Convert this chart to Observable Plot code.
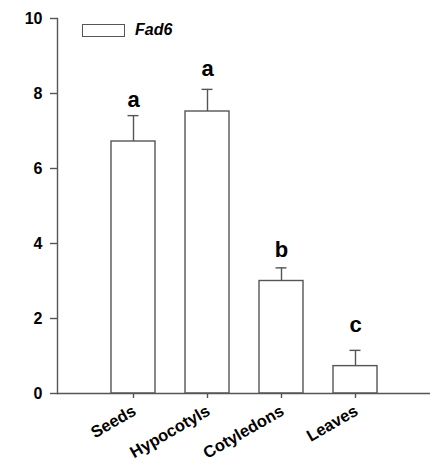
<!DOCTYPE html>
<html>
<head>
<meta charset="utf-8">
<script src="https://cdn.jsdelivr.net/npm/d3@7"></script>
<script src="https://cdn.jsdelivr.net/npm/@observablehq/plot@0.6"></script>
<style>
  body { margin: 0; background: #fff; font-family: "Liberation Sans", Arial, sans-serif; }
  #wrap { position: relative; width: 433px; height: 465px; }
  #legend { position: absolute; left: 82px; top: 22px; display: flex; align-items: center; }
  #legend .box { width: 41px; height: 11px; border: 1.3px solid #555; background: #fff; }
  #legend .lab { margin-left: 10px; font-style: italic; font-weight: bold; font-size: 16px; color: #000; line-height: 16px; }
</style>
</head>
<body>
<div id="wrap">
  <div id="chart"></div>
  <div id="legend"><div class="box"></div><div class="lab">Fad6</div></div>
</div>
<script>
const tissues = ["Seeds", "Hypocotyls", "Cotyledons", "Leaves"];
const values = [6.72, 7.52, 3.0, 0.73];
const errors = [0.69, 0.59, 0.35, 0.42];
const letters = ["a", "a", "b", "c"];
const letterY = [7.63, 8.48, 3.63, 1.63];
const yTicks = [0, 2, 4, 6, 8, 10];

const data = tissues.map((t, i) => ({
  tissue: t, value: values[i], top: values[i] + errors[i], letter: letters[i], ly: letterY[i]
}));

const pi = 0.41;
const ink = "#555";
const font = "Liberation Sans, Arial, sans-serif";

const chart = Plot.plot({
  width: 433,
  height: 465,
  marginLeft: 57,
  marginRight: 3,
  marginTop: 18,
  marginBottom: 72,
  style: { fontFamily: font, background: "#fff", color: "#000" },
  x: { type: "band", domain: tissues, paddingInner: pi, paddingOuter: 0.5 + pi / 2, axis: null },
  y: { domain: [0, 10], axis: null },
  marks: [
    Plot.barY(data, { x: "tissue", y: "value", fill: "white", stroke: ink, strokeWidth: 1.4 }),
    Plot.ruleX(data, { x: "tissue", y1: "value", y2: "top", stroke: ink, strokeWidth: 1.4 }),
    Plot.tickY(data, { x: "tissue", y: "top", stroke: ink, strokeWidth: 1.4, insetLeft: 16.5, insetRight: 16.5 }),
    Plot.text(data, { x: "tissue", y: "ly", text: "letter", fontSize: 22, fontWeight: "bold", lineAnchor: "bottom", fill: "#000" }),
    Plot.ruleY([0], { stroke: ink, strokeWidth: 1.4 }),
    Plot.frame({ anchor: "left", stroke: ink, strokeWidth: 1.4 }),
    Plot.axisY({ ticks: yTicks, tickSize: 7, tickPadding: 8, fontSize: 16, fontWeight: "bold", stroke: ink, strokeWidth: 1.4, tickFormat: d3.format("d"), label: null, fill: "#000" }),
    Plot.axisX({ tickSize: 5, tickFormat: () => "", stroke: ink, strokeWidth: 1.4, label: null }),
    Plot.text(data, { x: "tissue", y: 0, text: "tissue", rotate: -30, textAnchor: "end", lineAnchor: "middle", dx: 1, dy: 16, fontSize: 16.5, fontWeight: "bold", fill: "#000" })
  ]
});
document.getElementById("chart").appendChild(chart);
</script>
</body>
</html>
